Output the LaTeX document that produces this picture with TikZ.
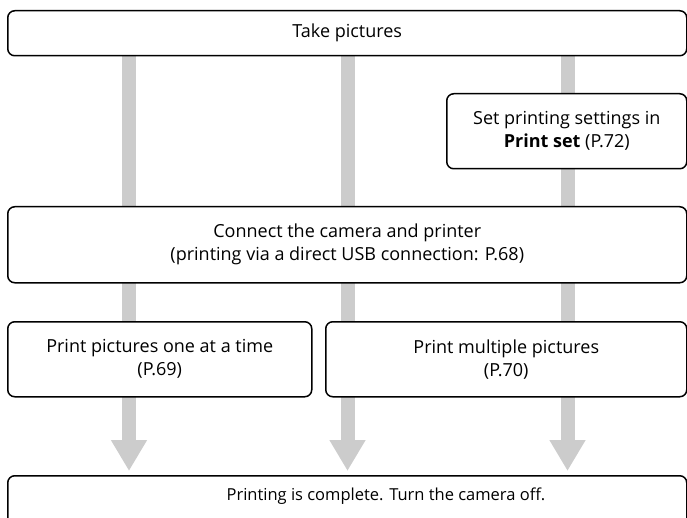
\documentclass[tikz,border=0pt]{standalone}
\usepackage{fontspec}
\setmainfont{Open Sans}
\usetikzlibrary{arrows.meta}
\definecolor{colgray}{RGB}{204,204,204}
\tikzset{
  box/.style={draw=black, line width=1.5pt, rounded corners=7pt, fill=white,
    inner sep=0pt, anchor=north west, align=center,
    font=\fontsize{18}{23}\selectfont},
  label/.style={inner sep=0pt, align=center, font=\fontsize{16.5}{21}\selectfont},
  flow/.style={draw=colgray, line width=14pt,
    -{Triangle[width=34pt,length=31pt]}, shorten >=4pt},
}
\begin{document}
\begin{tikzpicture}[x=1pt,y=-1pt]
\useasboundingbox (0,0) rectangle (687,518);
% column positions
\coordinate (c1) at (129,0);
\coordinate (c2) at (347.5,0);
\coordinate (c3) at (567.5,0);
% invisible outlines used as connector ends
\node[box, minimum width=679pt, minimum height=45pt, draw=none, fill=none] (take) at (7,10) {};
\node[box, minimum width=679pt, minimum height=60pt, draw=none, fill=none] (final) at (7,475) {};
% flows (behind boxes)
\draw[flow] (take.south -| c1) -- (final.north -| c1);
\draw[flow] (take.south -| c2) -- (final.north -| c2);
\draw[flow] (take.south -| c3) -- (final.north -| c3);
% boxes on top
\node[box, minimum width=679pt, minimum height=45pt] (takebox) at (7,10) {Take pictures};
\node[box, minimum width=240pt, minimum height=75pt] (set) at (446,93)
  {Set printing settings in\\\textbf{Print set} (P.72)};
\node[box, minimum width=679pt, minimum height=76pt] (connect) at (7,206)
  {Connect the camera and printer\\(printing via a direct USB connection: P.68)};
\node[box, minimum width=304pt, minimum height=75pt] (one) at (7,321)
  {Print pictures one at a time\\(P.69)};
\node[box, minimum width=361pt, minimum height=75pt] (multi) at (325,321)
  {Print multiple pictures\\(P.70)};
\node[box, minimum width=679pt, minimum height=60pt] (finalbox) at (7,475) {};
\node[label] (fintext) at (386,496) {Printing is complete. Turn the camera off.};
\end{tikzpicture}
\end{document}
